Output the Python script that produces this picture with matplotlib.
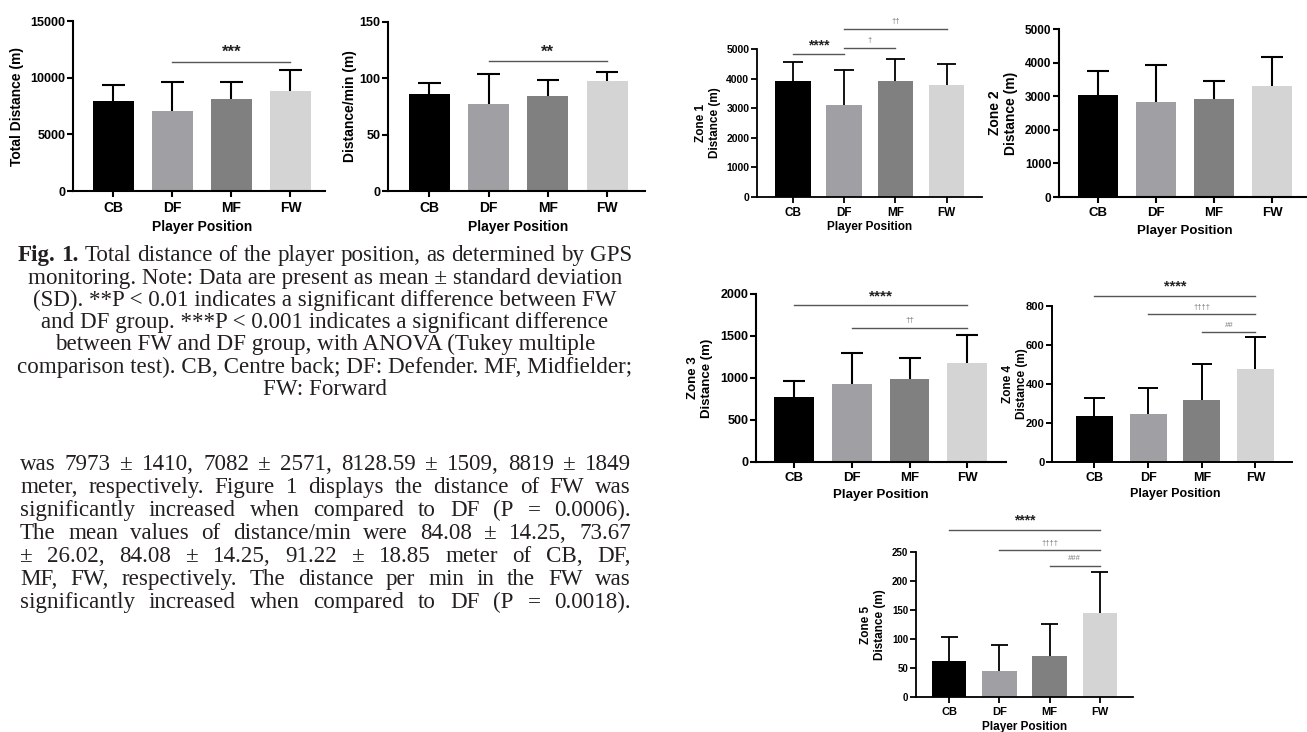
import numpy as np
import matplotlib
matplotlib.use('Agg')
import matplotlib.pyplot as plt
from matplotlib.transforms import blended_transform_factory

W, H = 1307, 732

positions = ['CB', 'DF', 'MF', 'FW']
bar_colors = ['#000000', '#a0a0a4', '#808080', '#d4d4d4']

# mean / SD
total_mean = [7973, 7082, 8128.59, 8819]
total_sd = [1410, 2571, 1509, 1849]
permin_mean = [86, 77, 84.5, 97.5]
permin_sd = [10, 26.5, 13.7, 8]
zone1_mean = [3928, 3104, 3916, 3770]
zone1_sd = [643, 1174, 734, 733]
zone2_mean = [3036, 2817, 2917, 3313]
zone2_sd = [724, 1121, 525, 844]
zone3_mean = [777, 928, 992, 1179]
zone3_sd = [187, 367, 251, 331]
zone4_mean = [238, 247, 318, 479]
zone4_sd = [92, 130, 184, 160]
zone5_mean = [62, 45, 70, 145]
zone5_sd = [42, 45, 56, 71]

# significance brackets: (from bar, to bar, height, label)
total_sig = [(1, 3, 11400, '***')]
permin_sig = [(1, 3, 115, '**')]
zone1_sig = [(0, 1, 4820, '****'), (1, 2, 5045, '\u2020'), (1, 3, 5680, '\u2020\u2020')]
zone2_sig = []
zone3_sig = [(0, 3, 1865, '****'), (1, 3, 1600, '\u2020\u2020')]
zone4_sig = [(0, 3, 853, '****'), (1, 3, 757, '\u2020\u2020\u2020\u2020'), (2, 3, 666, '##')]
zone5_sig = [(0, 3, 288, '****'), (1, 3, 253, '\u2020\u2020\u2020\u2020'), (2, 3, 226, '###')]

caption = [
    "Total distance of the player position, as determined by GPS",
    "monitoring. Note: Data are present as mean \u00b1 standard deviation",
    "(SD). **P < 0.01 indicates a significant difference between FW",
    "and DF group. ***P < 0.001 indicates a significant difference",
    "between FW and DF group, with ANOVA (Tukey multiple",
    "comparison test). CB, Centre back; DF: Defender. MF, Midfielder;",
    "FW: Forward",
]
body = [
    "was 7973 \u00b1 1410, 7082 \u00b1 2571, 8128.59 \u00b1 1509, 8819 \u00b1 1849",
    "meter, respectively. Figure 1 displays the distance of FW was",
    "significantly increased when compared to DF (P = 0.0006).",
    "The mean values of distance/min were 84.08 \u00b1 14.25, 73.67",
    "\u00b1 26.02, 84.08 \u00b1 14.25, 91.22 \u00b1 18.85 meter of CB, DF,",
    "MF, FW, respectively. The distance per min in the FW was",
    "significantly increased when compared to DF (P = 0.0018).",
]

plt.rcParams['font.family'] = ['Liberation Sans', 'DejaVu Sans']
plt.rcParams['font.weight'] = 'bold'

fig = plt.figure(figsize=(W / 100, H / 100), dpi=100)
renderer = fig.canvas.get_renderer()


def draw_panel(p, mean, sd, sig):
    x0, x1, yt, yb = p['box']
    ax = fig.add_axes([x0 / W, 1 - yb / H, (x1 - x0) / W, (yb - yt) / H])
    x = np.arange(len(positions))
    mean = np.array(mean, dtype=float)
    sd = np.array(sd, dtype=float)
    ax.bar(x, mean, width=0.69, color=bar_colors, zorder=1)
    lw = p['lw']
    ax.vlines(x, mean, mean + sd, color='black', lw=lw, zorder=3)
    ax.hlines(mean + sd, x - p['cap'], x + p['cap'], color='black', lw=lw, zorder=3)
    ax.set_xlim(p['xlim'])
    ax.set_ylim(0, p['ymax'])
    ax.set_yticks(np.arange(0, p['ymax'] + 1, p['ystep']))
    ax.set_xticks(x)
    ax.set_xticklabels(positions)
    for s in ['top', 'right']:
        ax.spines[s].set_visible(False)
    for s in ['left', 'bottom']:
        ax.spines[s].set_linewidth(lw)
    ax.spines['left'].set_bounds(0, p['ymax'])
    ax.tick_params(axis='y', direction='out', length=4, width=lw, pad=1.5, labelsize=p['fs_y'])
    ax.tick_params(axis='x', direction='out', length=4, width=lw, pad=3, labelsize=p['fs_x'])
    ax.set_facecolor('none')
    ax.set_ylabel(p['ylabel'], fontsize=p['fs_ylab'], fontweight='bold', multialignment='center')
    ax.yaxis.label.set_verticalalignment('center')
    ax.yaxis.set_label_coords(p['ylab_x'] / W, 1 - (yt + yb) / 2 / H, transform=fig.transFigure)
    tr = blended_transform_factory(ax.transData, fig.transFigure)
    ax.text(1.5, 1 - p['xlab_y'] / H, 'Player Position', transform=tr, ha='center', va='center',
            fontsize=p['fs_xlab'], fontweight='bold')
    for a, b, h, lab in sig:
        ax.plot([a, b], [h, h], color='#555555', lw=1.0, clip_on=False, zorder=4)
        is_star = lab.startswith('*')
        ax.annotate(lab, (0.5 * (a + b), h), xytext=(0, 1.5 if is_star else 2.5),
                    textcoords='offset points', ha='center', va='bottom',
                    fontsize=p['fs_star'] if is_star else p['fs_dag'],
                    color='#222222' if is_star else '#777777',
                    fontweight='bold' if is_star else 'normal',
                    style='normal' if lab[0] != '#' else 'italic',
                    annotation_clip=False)
    return ax


panels = [
    dict(box=(73, 325, 21, 191), xlim=(-0.686, 3.585), ymax=15000, ystep=5000, cap=0.19, lw=1.5,
         ylabel='Total Distance (m)', ylab_x=17, xlab_y=227,
         fs_y=9, fs_x=10, fs_ylab=10, fs_xlab=10, fs_star=12, fs_dag=7),
    dict(box=(388, 645, 22, 191), xlim=(-0.70, 3.64), ymax=150, ystep=50, cap=0.19, lw=1.5,
         ylabel='Distance/min (m)', ylab_x=350, xlab_y=227,
         fs_y=9, fs_x=10, fs_ylab=10, fs_xlab=10, fs_star=12, fs_dag=7),
    dict(box=(757, 982, 49, 197), xlim=(-0.70, 3.69), ymax=5000, ystep=1000, cap=0.19, lw=1.3,
         ylabel='Zone 1\nDistance (m)', ylab_x=708, xlab_y=227,
         fs_y=7.5, fs_x=8.5, fs_ylab=8.5, fs_xlab=8.5, fs_star=10, fs_dag=5.5),
    dict(box=(1059, 1307, 29, 197), xlim=(-0.67, 3.6), ymax=5000, ystep=1000, cap=0.19, lw=1.5,
         ylabel='Zone 2\nDistance (m)', ylab_x=1003, xlab_y=231,
         fs_y=8.5, fs_x=9.5, fs_ylab=10, fs_xlab=9.5, fs_star=11, fs_dag=6),
    dict(box=(756, 1006, 294, 462), xlim=(-0.66, 3.67), ymax=2000, ystep=500, cap=0.19, lw=1.5,
         ylabel='Zone 3\nDistance (m)', ylab_x=700, xlab_y=495,
         fs_y=9, fs_x=9.5, fs_ylab=9.5, fs_xlab=9.5, fs_star=11, fs_dag=6),
    dict(box=(1052, 1292, 306, 462), xlim=(-0.79, 3.68), ymax=800, ystep=200, cap=0.19, lw=1.4,
         ylabel='Zone 4\nDistance (m)', ylab_x=1015, xlab_y=494,
         fs_y=8, fs_x=9, fs_ylab=8.5, fs_xlab=9, fs_star=10.5, fs_dag=5.5),
    dict(box=(916, 1133, 552, 697), xlim=(-0.66, 3.66), ymax=250, ystep=50, cap=0.17, lw=1.3,
         ylabel='Zone 5\nDistance (m)', ylab_x=873, xlab_y=727,
         fs_y=7, fs_x=8, fs_ylab=8.5, fs_xlab=8.5, fs_star=10, fs_dag=5.5),
]
series = [(total_mean, total_sd, total_sig), (permin_mean, permin_sd, permin_sig),
          (zone1_mean, zone1_sd, zone1_sig), (zone2_mean, zone2_sd, zone2_sig),
          (zone3_mean, zone3_sd, zone3_sig), (zone4_mean, zone4_sd, zone4_sig),
          (zone5_mean, zone5_sd, zone5_sig)]
for p, (m, s, sg) in zip(panels, series):
    draw_panel(p, m, s, sg)

# ---- text column (serif) ----
serif = dict(family=['Liberation Serif', 'DejaVu Serif'], color='#231f20')


def width_of(s, size, weight):
    t = fig.text(0, 0, s, fontsize=size, fontweight=weight, **serif)
    w = t.get_window_extent(renderer).width
    t.remove()
    return w


# fit size so the widest caption line spans the column
fs = 10 * 614 / max(width_of(c, 10, 'normal') for c in caption[1:])


def justify(words, weights, base_y, xl, xr):
    ws = [width_of(w, fs, wt) for w, wt in zip(words, weights)]
    gap = (xr - xl - sum(ws)) / (len(words) - 1)
    x = xl
    for w, wt, wd in zip(words, weights, ws):
        fig.text(x / W, 1 - base_y / H, w, fontsize=fs, fontweight=wt, ha='left', va='baseline', **serif)
        x += wd + gap


cap_y = [255, 278, 300, 322, 344, 367, 389]
first = ['Fig.', '1.'] + caption[0].split(' ')
justify(first, ['bold', 'bold'] + ['normal'] * (len(first) - 2), cap_y[0] + 6, 18, 632)
for line, y in zip(caption[1:], cap_y[1:]):
    fig.text(325 / W, 1 - (y + 6) / H, line, fontsize=fs, fontweight='normal', ha='center', va='baseline', **serif)

body_y = [464, 487, 510, 533, 556, 579, 602]
for line, y in zip(body, body_y):
    words = line.split(' ')
    justify(words, ['normal'] * len(words), y + 6, 20, 631)

fig.savefig('out.png', dpi=100, facecolor='white')
